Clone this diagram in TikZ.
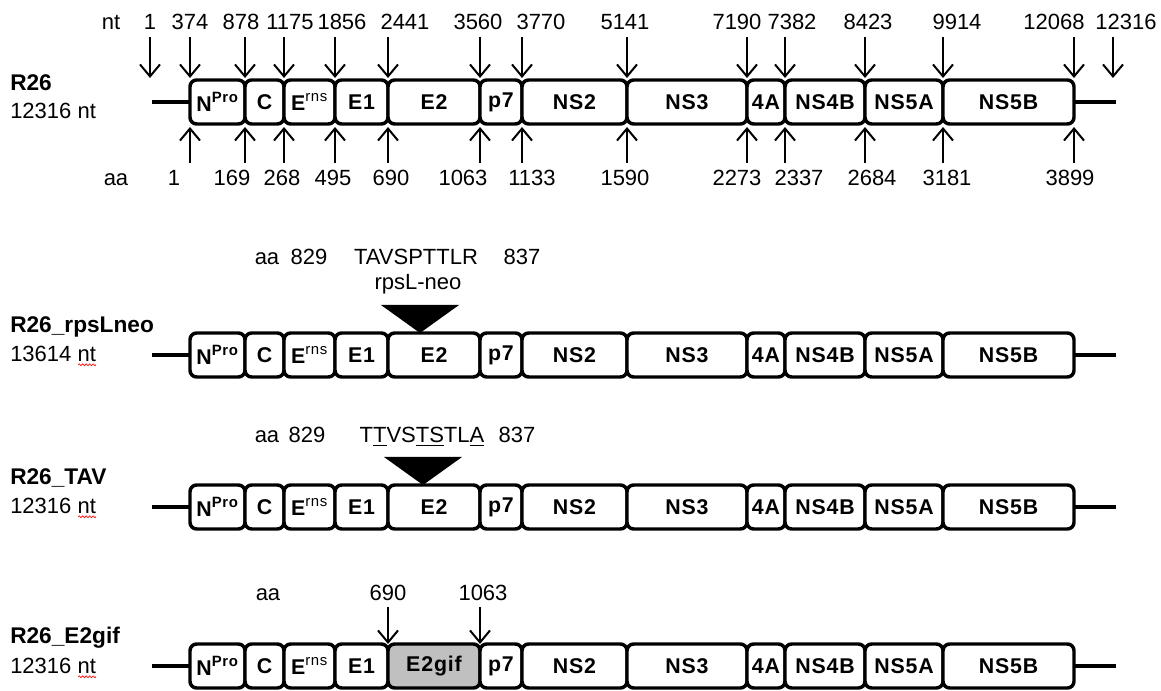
\documentclass[tikz,border=0pt]{standalone}
\usepackage{fontspec}
\setmainfont{Liberation Sans}
\usetikzlibrary{arrows.meta,decorations.pathmorphing}
\newcommand\genomerow[3]{%
  \foreach \a/\b/\lab/\fl [count=\i] in #3 {
    \node[gbox, fill=\fl, minimum width={(\b-\a)*0.75pt}] (#1b\i) at ({(\a+\b)/2},#2) {\lab};
  }
  \coordinate (#1L) at (152,#2);
  \coordinate (#1R) at (1116,#2);
  \draw[bb] (#1L) -- (#1b1.west);
  \draw[bb] (#1b12.east) -- (#1R);
}
\def\stdlist{190/245/{N\textsuperscript{Pro}}/white, 245/284/C/white, 284/335/{E\textsuperscript{\mdseries rns}}/white, 335/388/E1/white, 388/480/E2/white, 480/522/p7/white, 522/627/NS2/white, 627/747/NS3/white, 747/785/4A/white, 785/865/NS4B/white, 865/943/NS5A/white, 943/1074/NS5B/white}
\def\giflist{190/245/{N\textsuperscript{Pro}}/white, 245/284/C/white, 284/335/{E\textsuperscript{\mdseries rns}}/white, 335/388/E1/white, 388/480/E2gif/boxgray, 480/522/p7/white, 522/627/NS2/white, 627/747/NS3/white, 747/785/4A/white, 785/865/NS4B/white, 865/943/NS5A/white, 943/1074/NS5B/white}
\definecolor{boxgray}{RGB}{192,192,192}
\begin{document}
\begin{tikzpicture}[x=0.75pt,y=-0.75pt,
  gbox/.style={draw, line width=2.6pt, rounded corners=5pt, minimum height=33pt, inner sep=0pt, outer sep=0pt, font=\fontsize{16}{19}\selectfont\bfseries\addfontfeature{LetterSpace=4}},
  num/.style={font=\fontsize{16.5}{19}\selectfont, inner sep=0pt, anchor=base},
  title/.style={font=\fontsize{17}{20}\selectfont\bfseries, anchor=west, inner sep=0pt},
  sub/.style={font=\fontsize{16.5}{19}\selectfont, anchor=west, inner sep=0pt},
  arr/.style={line width=1.5pt, -{Straight Barb[length=9pt,width=15pt,line width=1.5pt]}},
  bb/.style={line width=2.6pt},
  squig/.style={draw=red, line width=0.5pt, decorate, decoration={snake, amplitude=0.7pt, segment length=2.6pt}}
]
\useasboundingbox (0,0) rectangle (1161,691);

% ---------- Row 1: R26 ----------
\genomerow{r1}{102}{\stdlist}
\node[title] (t1) at (10,83) {R26};
\node[sub] (s1) at (10,111) {12316 nt};
\node[num] (ntlab) at (111,30) {nt};
\node[num] (aalab) at (116,186) {aa};
\foreach \x/\lx/\t [count=\i] in {150/150/1, 190/190/374, 245/241/878, 284/290/1175, 335/342/1856, 388/405/2441, 480/478/3560, 522/541/3770, 627/625/5141, 747/737/7190, 785/792/7382, 865/868/8423, 943/957/9914, 1074/1054/12068, 1113/1126/12316}{
  \node[num] (nt\i) at (\lx,30) {\t};
  \coordinate (nts\i) at (\x,37);
  \coordinate (nte\i) at (\x,78);
  \draw[arr] (nts\i) -- (nte\i);
}
\foreach \x/\lx/\t [count=\i] in {190/174/1, 245/232/169, 284/282/268, 335/333/495, 388/391/690, 480/463/1063, 522/532/1133, 627/625/1590, 747/737/2273, 785/799/2337, 865/872/2684, 943/947/3181, 1074/1070/3899}{
  \node[num] (aa\i) at (\lx,186) {\t};
  \coordinate (aas\i) at (\x,163);
  \coordinate (aae\i) at (\x,127);
  \draw[arr] (aas\i) -- (aae\i);
}

% ---------- Row 2: R26_rpsLneo ----------
\genomerow{r2}{355}{\stdlist}
\node[title] (t2) at (10,327) {R26\_rpsLneo};
\node[sub] (s2) at (10,354) {13614 nt};
\draw[squig] ([xshift=-13.5pt,yshift=-2.4pt]s2.base east) -- ([yshift=-2.4pt]s2.base east);
\node[num] (q2a) at (267,265) {aa};
\node[num] (q2b) at (309,265) {829};
\node[num] (q2c) at (416,265) {TAVSPTTLR};
\node[num] (q2d) at (522,265) {837};
\node[num] (ins2) at (418,290) {rpsL-neo};
\coordinate (tr2a) at (381,305);
\coordinate (tr2b) at (459,305);
\coordinate (tr2c) at (420,333);
\fill (tr2a) -- (tr2b) -- (tr2c) -- cycle;

% ---------- Row 3: R26_TAV ----------
\genomerow{r3}{507}{\stdlist}
\node[title] (t3) at (10,478) {R26\_TAV};
\node[sub] (s3) at (10,506) {12316 nt};
\draw[squig] ([xshift=-13.5pt,yshift=-2.4pt]s3.base east) -- ([yshift=-2.4pt]s3.base east);
\node[num] (q3a) at (267,443) {aa};
\node[num] (q3b) at (307,443) {829};
\node[num] (q3c) at (422,443) {T\underline{T}VS\underline{TS}TL\underline{A}};
\node[num] (q3d) at (517,443) {837};
\coordinate (tr3a) at (384,457);
\coordinate (tr3b) at (462,457);
\coordinate (tr3c) at (423,485);
\fill (tr3a) -- (tr3b) -- (tr3c) -- cycle;

% ---------- Row 4: R26_E2gif ----------
\genomerow{r4}{666}{\giflist}
\node[title] (t4) at (10,638) {R26\_E2gif};
\node[sub] (s4) at (10,666) {12316 nt};
\draw[squig] ([xshift=-13.5pt,yshift=-2.4pt]s4.base east) -- ([yshift=-2.4pt]s4.base east);
\node[num] (g4a) at (268,600) {aa};
\node[num] (g4b) at (388,600) {690};
\node[num] (g4c) at (483,600) {1063};
\coordinate (g4s1) at (388,607);
\coordinate (g4s2) at (480,607);
\draw[arr] (g4s1) -- (r4b5.north west);
\draw[arr] (g4s2) -- (r4b5.north east);
\end{tikzpicture}
\end{document}
